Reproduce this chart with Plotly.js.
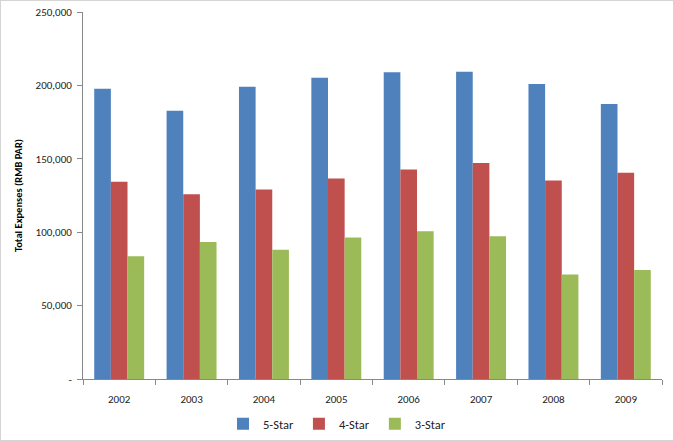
<!DOCTYPE html>
<html>
<head>
<meta charset="utf-8">
<script src="https://cdn.plot.ly/plotly-3.0.1.min.js"></script>
<style>
html,body{margin:0;padding:0;background:#fff;}
#chart{width:674px;height:441px;box-sizing:border-box;border:1px solid #d4d4d4;}
</style>
</head>
<body>
<div id="chart"></div>
<script>
var years = ['2002','2003','2004','2005','2006','2007','2008','2009'];
var fiveStar = [197700, 182700, 199100, 205200, 208900, 209300, 200900, 187300];
var fourStar = [134300, 125900, 129100, 136600, 142700, 147100, 135300, 140500];
var threeStar = [83700, 93400, 88000, 96400, 100700, 97300, 71200, 74300];
var yTickVals = [0, 50000, 100000, 150000, 200000, 250000];
var yTickText = ['-', '50,000', '100,000', '150,000', '200,000', '250,000'];

var font = 'Carlito, "Liberation Sans", "Noto Sans", sans-serif';
var traces = [
  {type:'bar', name:'5-Star', x:years, y:fiveStar, marker:{color:'#4F81BD'}},
  {type:'bar', name:'4-Star', x:years, y:fourStar, marker:{color:'#C0504D'}},
  {type:'bar', name:'3-Star', x:years, y:threeStar, marker:{color:'#9BBB59'}}
];
var layout = {
  width:672, height:439,
  margin:{l:82, r:11, t:11, b:61},
  paper_bgcolor:'#fff', plot_bgcolor:'#fff',
  font:{family:font, size:11, color:'#222'},
  barmode:'group', bargap:0.31, bargroupgap:0,
  showlegend:true,
  legend:{orientation:'h', xref:'container', yref:'container', x:0.5, xanchor:'center', y:0.036, yanchor:'middle',
          font:{size:12.5, color:'#222'}, itemwidth:30, traceorder:'normal'},
  xaxis:{type:'category', showline:true, linecolor:'#888', linewidth:1, automargin:false,
         ticks:'outside', tickson:'boundaries', ticklen:5, tickcolor:'#888',
         ticklabelstandoff:10,
         showgrid:false, zeroline:false, tickfont:{size:11}},
  yaxis:{range:[0,250000], showline:true, linecolor:'#888', linewidth:1, automargin:false,
         ticks:'outside', ticklen:5, tickcolor:'#888', showgrid:false, zeroline:false,
         ticklabelstandoff:3,
         tickvals:yTickVals, ticktext:yTickText, tickfont:{size:11},
         title:{text:'Total Expenses (RMB PAR)', font:{size:10.5, color:'#000', weight:'bold'}, standoff:10}}
};
Plotly.newPlot('chart', traces, layout, {displayModeBar:false, staticPlot:true});
</script>
</body>
</html>
